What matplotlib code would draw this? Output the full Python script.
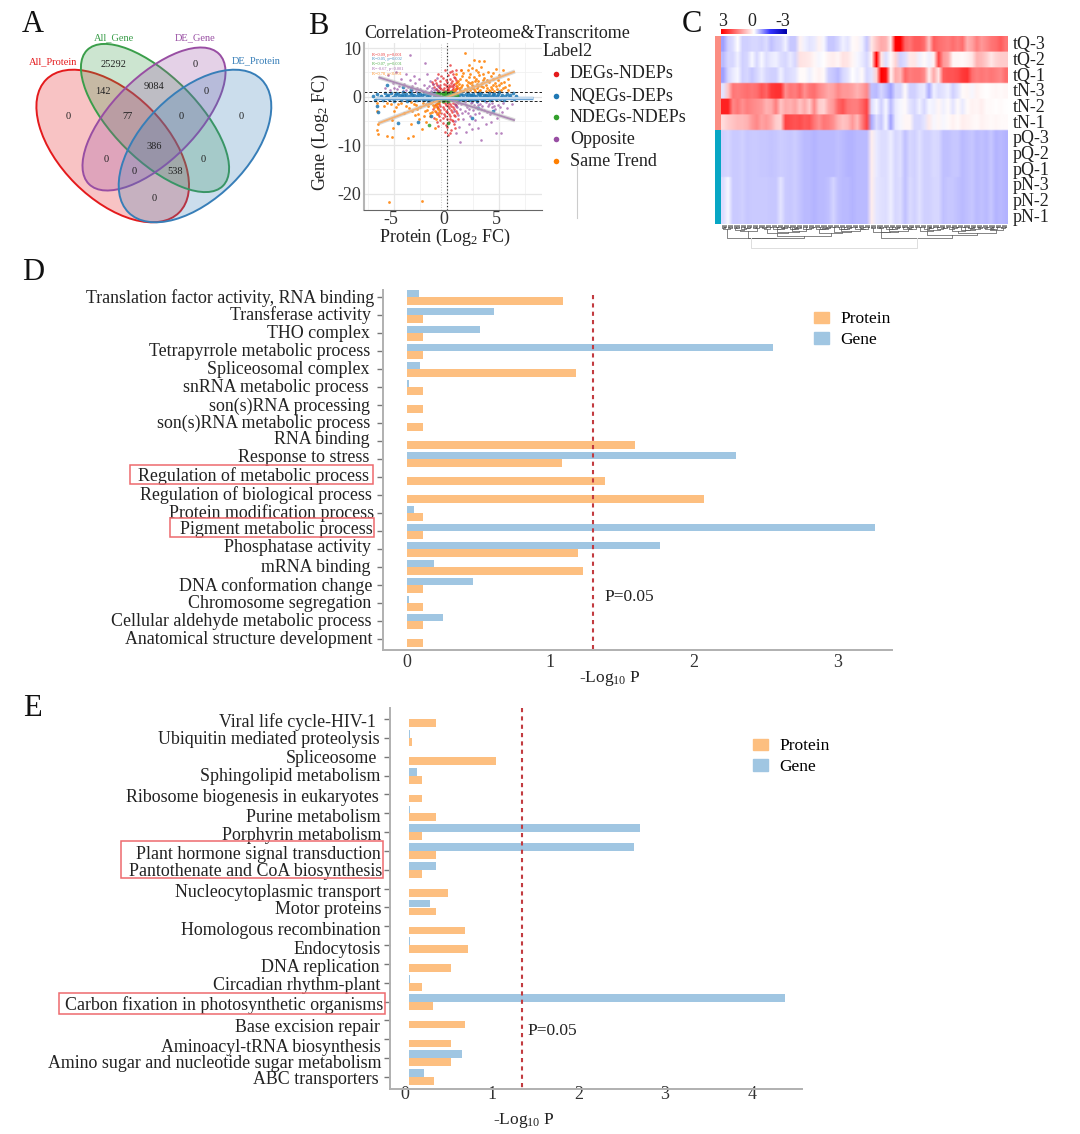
import numpy as np
import matplotlib
matplotlib.use("Agg")
import matplotlib.pyplot as plt
from matplotlib.colors import LinearSegmentedColormap
from matplotlib.patches import Ellipse, Rectangle, Patch
from matplotlib.transforms import ScaledTranslation

plt.rcParams['font.family'] = ['Liberation Serif', 'DejaVu Serif']
plt.rcParams['mathtext.default'] = 'regular'
plt.rcParams['axes.unicode_minus'] = False

# panel A
venn_names = ["All_Protein", "All_Gene", "DE_Gene", "DE_Protein"]
venn_counts = [0, 25292, 142, 9084, 0, 0, 77, 0, 0, 386, 0, 0, 538, 0, 0]

# panel B
same_pts = [(1.7,9.0),(2.1,6.6),(2.6,7.6),(3.1,7.3),(3.6,7.4),(1.4,5.6),(2.0,5.4),(2.8,5.5),(3.3,6.2),(3.9,5.1),(4.7,5.7),(5.4,5.6),
            (0.9,4.6),(1.5,4.2),(2.2,4.7),(2.6,4.0),(3.1,4.5),(3.6,3.9),(4.2,4.3),(4.9,3.4),(5.5,3.1),(1.1,3.2),(1.8,3.5),(2.4,3.1),
            (3.0,3.3),(3.4,2.9),(4.0,3.0),(4.4,2.3),(5.0,2.5),(5.6,2.0),(1.0,2.2),(1.4,1.9),(1.9,2.5),(2.5,2.1),(2.9,1.8),(3.3,2.2),
            (3.8,1.7),(4.3,1.5),(4.8,1.6),(5.2,1.3),(0.8,1.5),(1.3,1.3),(1.7,1.6),(2.2,1.4),(2.7,1.2),(3.2,1.4),(3.7,1.2),(4.1,1.1),
            (0.7,1.1),(1.6,1.1),(2.4,1.7),(2.0,3.0),(3.5,3.5),(4.6,2.9),(1.2,2.7),(2.9,2.6),
            (1.6,4.8),(2.4,5.9),(3.0,5.0),(3.5,4.7),(4.4,4.9),(5.0,4.4),(5.8,3.6),(1.3,3.7),(2.1,4.1),(2.8,3.7),(3.8,3.4),(4.4,3.6),
            (5.2,2.9),(5.9,2.5),(1.5,2.4),(2.2,2.8),(2.7,3.2),(3.7,2.5),(4.2,2.0),(4.7,2.2),(5.4,1.8),(1.2,1.7),(2.0,2.0),(2.6,1.5),
            (3.0,2.2),(3.5,1.9),(4.0,1.4),(4.5,1.2),(5.0,1.1),(5.8,1.4),(0.9,2.9),(1.9,1.2),(2.4,2.4),(3.1,1.2),
            (-6.6,-1.4),(-6.6,-3.0),(-6.5,-5.6),(-6.6,-6.9),(-6.5,-7.7),(-6.0,-2.0),(-5.7,-8.2),(-5.2,-8.3),(-5.3,-1.6),(-5.2,-4.9),
            (-5.1,-6.5),(-4.8,-2.2),(-4.4,-1.3),(-4.1,-3.4),(-3.7,-8.5),(-3.2,-8.1),(-3.6,-2.4),(-3.4,-5.6),(-3.1,-1.5),(-3.0,-3.7),
            (-2.8,-2.6),(-2.6,-4.6),(-2.4,-6.6),(-2.3,-1.4),(-2.1,-3.0),(-2.0,-5.2),(-1.8,-2.0),(-1.6,-4.1),(-1.5,-1.3),(-1.4,-3.2),
            (-1.2,-2.2),(-1.1,-6.4),(-1.0,-1.5),(-0.9,-3.6),(-0.8,-2.6),(-0.7,-1.2),(-5.5,-21.7),(-2.4,-21.5),
            (-5.7,-1.3),(-5.0,-2.9),(-4.6,-1.6),(-3.9,-1.9),(-3.4,-1.2),(-3.3,-3.0),(-2.9,-1.8),(-2.7,-3.6),(-2.5,-2.1),(-2.2,-4.0),
            (-2.0,-1.6),(-1.9,-2.7),(-1.7,-1.3),(-1.6,-3.3),(-1.3,-1.7),(-1.1,-2.9),(-1.0,-4.6),(-0.9,-1.9),(-0.8,-1.4),(-0.7,-3.1)]
opp_pts = [(-3.5,8.5),(-2.1,7.0),(-4.8,5.1),(-3.9,4.7),(-5.6,4.4),(-3.1,4.2),(-1.9,4.6),(-4.4,3.6),(-3.5,3.4),(-2.6,3.6),(-1.6,3.3),
           (-5.1,2.9),(-4.1,2.6),(-3.0,2.8),(-2.2,2.5),(-1.3,2.7),(-0.9,3.9),(-5.9,1.8),(-4.7,1.6),(-3.7,1.9),(-2.8,1.7),(-1.9,1.8),
           (-1.0,1.6),(-5.4,1.3),(-4.2,1.2),(-3.3,1.3),(-2.4,1.2),(-1.5,1.2),(-0.7,1.2),(-0.8,2.1),
           (-4.5,2.1),(-3.3,2.2),(-2.5,1.5),(-1.7,2.2),(-1.2,1.4),(-3.9,1.4),(-5.0,1.8),(-2.9,1.2),(-2.1,1.1),(-1.4,1.8),
           (1.3,-9.3),(3.3,-9.0),(4.7,-7.5),(5.2,-7.5),(0.9,-7.6),(1.8,-7.2),(2.4,-6.7),(1.2,-6.2),(3.0,-6.4),(3.7,-5.7),(2.1,-5.6),
           (0.8,-5.0),(4.2,-5.2),(1.6,-4.6),(2.7,-4.8),(3.4,-4.3),(4.8,-4.5),(1.1,-3.8),(2.2,-3.9),(3.1,-3.4),(4.1,-3.6),(5.3,-3.2),
           (0.7,-3.0),(1.7,-3.0),(2.5,-2.8),(3.6,-2.7),(4.6,-2.6),(5.7,-2.3),(6.2,-1.6),(1.0,-2.2),(1.9,-2.1),(2.8,-2.2),(3.9,-1.9),
           (4.9,-1.7),(0.8,-1.5),(1.4,-1.6),(2.3,-1.4),(3.2,-1.5),(4.3,-1.3),(5.4,-1.3),(1.7,-1.2),(2.9,-1.2),(3.7,-1.2),
           (1.3,-2.6),(2.1,-2.5),(2.6,-1.8),(3.4,-2.0),(1.5,-3.4),(2.7,-3.5),(3.8,-3.1),(0.9,-1.9),(1.8,-1.7),(3.0,-1.8),(4.0,-1.5),
           (4.5,-1.9),(5.1,-2.2),(2.4,-1.2),(1.1,-1.3),(2.0,-3.3),(3.3,-2.5),(4.3,-2.2)]
deg_pts = [(0.3,6.5),(-0.2,5.4),(0.5,5.3),(0.9,5.6),(1.4,5.5),(-0.8,4.7),(0.1,4.4),(0.6,4.6),(-0.4,3.9),(0.3,3.7),(0.8,3.9),(-1.1,3.4),
           (-0.6,3.2),(0.0,3.1),(0.5,3.3),(1.0,3.0),(-1.3,2.6),(-0.9,2.4),(-0.3,2.7),(0.2,2.5),(0.7,2.6),(-0.7,2.0),(0.0,2.0),(0.4,2.1),
           (0.9,2.2),(-1.0,1.6),(-0.5,1.5),(0.1,1.6),(0.6,1.5),(1.0,1.7),(-0.8,1.2),(-0.2,1.2),(0.3,1.2),(0.8,1.2),(-0.3,1.8),(0.6,1.9),
           (-1.2,1.9),(-0.6,2.5),(-0.1,3.5),(0.4,2.8),(0.9,3.4),(-1.4,3.0),(-0.4,1.3),(0.2,1.9),(0.5,1.3),(0.9,1.5),(-0.9,1.4),(-0.1,2.3),
           (-0.5,4.3),(0.3,5.0),(0.7,4.1),(-1.0,2.8),(0.1,1.3),(0.6,2.3),(-0.6,1.7),(0.0,1.4),
           (-0.9,-1.3),(-0.4,-1.2),(0.1,-1.3),(0.6,-1.4),(1.0,-1.2),(-1.1,-1.8),(-0.6,-1.9),(-0.1,-1.7),(0.4,-1.9),(0.9,-1.8),(-1.3,-2.6),
           (-0.8,-2.4),(-0.3,-2.6),(0.2,-2.4),(0.7,-2.6),(-1.0,-3.2),(-0.5,-3.3),(0.0,-3.1),(0.5,-3.2),(1.0,-3.4),(-0.7,-4.0),(-0.2,-3.9),
           (0.3,-4.1),(0.8,-4.0),(-1.2,-4.4),(-0.6,-4.8),(0.0,-4.6),(0.5,-4.9),(1.1,-4.7),(-0.4,-5.5),(0.2,-5.3),(0.7,-5.7),(-0.8,-6.1),
           (0.0,-6.3),(0.4,-6.8),(-0.2,-7.3),(0.3,-7.6),(0.1,-7.9),(0.8,-6.5),
           (-0.7,-1.5),(-0.2,-1.4),(0.3,-1.6),(0.8,-1.5),(-0.9,-2.1),(-0.4,-2.2),(0.1,-2.0),(0.6,-2.1),(-0.6,-2.8),(-0.1,-2.9),(0.4,-2.7),
           (0.9,-2.9),(-0.8,-3.6),(-0.3,-3.5),(0.2,-3.6),(0.7,-3.7),(-0.4,-4.4),(0.3,-4.6),(-0.9,-5.2),(0.6,-5.1),(-0.1,-5.8)]
nqe_pts = [(-7.0,0.1),(-6.8,-0.6),(-6.6,0.5),(-6.5,-0.2),(-6.3,0.2),(-6.1,-0.7),(-5.9,0.7),(-5.8,-0.1),(-5.6,0.3),(-5.5,-0.5),(-5.3,0.8),
           (-5.1,0.0),(-5.0,-0.8),(-4.9,0.4),(-4.7,-0.3),(-4.6,0.6),(-4.4,-0.6),(-4.3,0.1),(-4.2,0.9),(-4.0,-0.2),(-3.9,0.5),(-3.8,-0.8),
           (-3.6,0.2),(-3.5,-0.4),(-3.4,0.7),(-3.2,-0.1),(-3.1,0.4),(-3.0,-0.7),(-2.8,0.1),(-2.7,0.8),(-2.6,-0.4),(-2.4,0.3),(-2.3,-0.6),
           (-2.2,0.6),(-2.0,-0.2),(-1.9,0.2),(-1.8,-0.8),(-1.6,0.5),(-1.5,-0.3),(-1.4,0.8),(-1.2,0.0),(-1.1,-0.6),(1.1,0.3),(1.2,-0.7),
           (1.3,0.7),(1.5,-0.2),(1.6,0.4),(1.7,-0.5),(1.9,0.1),(2.0,0.8),(2.1,-0.6),(2.3,0.3),(2.4,-0.1),(2.5,0.6),(2.7,-0.4),(2.8,0.2),
           (2.9,-0.8),(3.1,0.5),(3.2,-0.2),(3.3,0.8),(3.5,0.0),(3.6,-0.6),(3.7,0.4),(3.9,-0.3),(4.0,0.7),(4.1,-0.7),(4.3,0.2),(4.4,-0.2),
           (4.5,0.6),(4.7,-0.5),(4.8,0.1),(5.0,0.9),(5.1,-0.4),(5.3,0.3),(5.5,-0.7),(5.7,0.6),(5.9,0.0),(6.1,-0.3),(6.3,0.8),(6.6,0.2),
           (-6.6,-2.0),(-6.5,-3.1),(-4.6,-5.5),(-2.7,-5.3),(-1.5,-4.1),(-5.7,2.4),(-4.2,2.0),(-3.4,1.6),(2.4,-4.4),(3.0,-2.3),(4.4,-2.9),
           (-5.7,0.2),(-5.2,-0.3),(-4.8,0.7),(-4.5,-0.1),(-4.1,0.4),(-3.7,-0.5),(-3.3,0.3),(-2.9,-0.3),(-2.5,0.5),(-2.1,-0.5),(-1.7,0.1),
           (-1.3,-0.4),(-1.2,0.5),(-1.0,0.2),(-1.1,0.8),(-3.5,0.9),(-2.6,0.0),(-1.9,0.7),(-1.6,-0.6),(-2.8,-0.7),(-3.9,-0.1),(-4.4,0.3),
           (1.2,0.0),(1.3,-0.4),(1.4,0.5),(1.6,-0.7),(1.8,0.6),(2.0,-0.2),(2.2,0.3),(2.4,-0.7),(2.6,0.1),(2.8,-0.5),(3.0,0.7),(3.2,0.2),
           (3.4,-0.5),(3.6,0.3),(3.8,-0.1),(4.0,0.1),(4.2,-0.5),(4.4,0.5),(4.6,-0.1),(4.9,0.6),(5.2,-0.1),(5.6,0.1),(6.0,0.4),(6.4,-0.5)]
nde_pts = [(-1.0,0.4),(-0.9,-0.3),(-0.9,0.8),(-0.8,0.1),(-0.8,-0.7),(-0.7,0.5),(-0.7,-0.2),(-0.6,0.8),(-0.6,0.0),(-0.5,-0.5),(-0.5,0.4),
           (-0.4,-0.1),(-0.4,0.7),(-0.4,-0.8),(-0.3,0.2),(-0.3,-0.4),(-0.2,0.6),(-0.2,-0.2),(-0.2,0.9),(-0.1,0.1),(-0.1,-0.6),(-0.1,0.4),
           (0.0,-0.3),(0.0,0.7),(0.0,0.2),(0.1,-0.8),(0.1,0.5),(0.1,-0.1),(0.2,0.8),(0.2,-0.5),(0.2,0.3),(0.3,-0.2),(0.3,0.6),(0.3,-0.7),
           (0.4,0.1),(0.4,0.9),(0.5,-0.4),(0.5,0.4),(0.6,-0.1),(0.6,0.7),(0.7,-0.6),(0.7,0.2),(0.8,0.6),(0.8,-0.3),(0.9,0.1),(0.9,-0.7),
           (1.0,0.4),(1.0,-0.2),(0.1,-5.5),(-1.7,-5.8),
           (-0.9,0.1),(-0.8,0.5),(-0.7,-0.6),(-0.6,0.3),(-0.5,0.0),(-0.5,0.8),(-0.4,0.3),(-0.3,-0.7),(-0.3,0.6),(-0.2,0.2),(-0.1,-0.3),
           (0.0,-0.7),(0.0,0.4),(0.1,0.2),(0.2,-0.1),(0.3,0.3),(0.4,-0.5),(0.4,0.5),(0.5,0.0),(0.6,0.3),(0.7,-0.2),(0.8,0.1),(0.9,0.5),(1.0,0.1)]
scatter_labels = ["DEGs-NDEPs", "NQEGs-DEPs", "NDEGs-NDEPs", "Opposite", "Same Trend"]
fit_x = [-6.5, 6.5]
same_fit = [-5.5, 5.2]
opp_fit = [4.0, -4.9]
nqe_fit_x = [-6.6, 8.2]
nqe_fit = [-0.2, -0.2]
fit_notes = ["R=0.09, p=0.001", "R=0.05, p=0.002", "R=0.07, p=0.001", "R=-0.67, p<0.001", "R=0.78, p<0.001"]

# panel C
tQ3 = [-0.7,-0.35,-0.25,0.0,-0.35,-0.35,-0.3,-0.3,-0.35,-0.25,-0.45,-0.35,-0.3,-0.1,-0.4,-0.4,0.15,-0.1,-0.2,-0.15,0.15,-0.05,-0.4,-0.4,-0.3,-0.1,-0.2,0.05,0.1,-0.1,-0.4,
       0.3,0.7,1.0,0.9,0.2,3,3,1.8,1.6,1.9,1.9,1.7,0.7,1.9,1.7,1.6,1.5,1.7,1.5,1.7,0.9,1.1,1.5,1.2,1.4,1.6,1.7,1.9,1.6]
tQ2 = [-0.5,-0.3,-0.3,-0.1,-0.35,-0.3,-0.05,-0.3,-0.05,-0.25,-0.15,-0.1,-0.25,-0.3,-0.15,-0.3,0.35,0.3,0.25,0.1,-0.05,0.0,0.15,0.2,0.1,0.35,0.3,0.1,-0.05,-0.15,-0.3,
       0.1,3,0.3,-0.25,0.05,0.5,-0.35,-0.25,0.25,0.3,-0.1,0.05,-0.1,0.15,2.2,1.2,1.0,0.1,0.1,0.05,0.15,0.3,0.9,0.8,0.6,0.3,0.5,0.6,0.6]
tQ1 = [-0.7,-0.3,-0.15,-0.05,-0.35,-0.3,-0.4,-0.3,-0.15,-0.3,-0.35,-0.35,-0.1,-0.3,-0.25,-0.2,0.05,0.05,-0.1,0.05,0.15,0.05,-0.35,-0.4,-0.5,-0.3,-0.2,0.0,-0.1,0.05,-0.3,
       -0.2,0.5,3,2.8,0.1,1.0,0.8,1.8,1.5,1.6,1.6,1.4,0.2,1.0,0.3,1.9,2.0,2.0,2.1,2.3,2.4,1.7,1.5,1.6,1.5,1.6,1.5,1.4,1.7]
tN3 = [-0.2,0.7,1.6,1.5,1.6,1.7,1.6,1.7,2.0,1.8,2.3,2.4,2.4,1.3,1.6,1.5,1.8,1.3,1.6,1.7,1.4,1.2,1.0,1.1,1.4,1.2,1.2,1.1,0.9,1.1,1.4,
       -0.45,-0.5,-0.3,-0.45,-0.7,-0.3,-0.3,0.05,-0.35,-0.35,-0.2,-0.15,-0.6,-0.1,-0.25,-0.2,-0.1,-0.35,-0.2,0.05,0.1,-0.05,0.15,0.05,0.0,0.05,0.1,0.05,0.1]
tN2 = [2.6,2.6,1.4,1.6,1.3,1.5,1.4,1.3,1.2,0.9,1.0,1.5,0.7,1.0,0.9,1.1,0.7,1.0,0.6,1.4,0.6,0.5,1.0,1.2,1.8,2.0,1.6,1.5,1.5,1.8,2.2,
       -0.25,-0.05,-0.35,-0.05,-0.5,-0.15,-0.05,0.05,-0.2,-0.3,-0.1,-0.3,-0.05,-0.1,0.1,-0.1,0.05,-0.2,0.05,-0.15,0.05,0.15,0.1,0.2,0.05,0.05,0.0,0.05,0.0]
tN1 = [0.4,0.6,0.7,0.8,0.8,0.9,1.2,1.4,1.1,1.2,1.0,0.6,0.5,2.2,2.1,2.0,2.1,1.9,2.0,1.6,1.3,1.6,1.5,1.3,0.9,0.7,0.8,1.2,0.8,1.5,2.2,
       -0.6,-0.25,-0.4,-0.05,-0.7,-0.15,-0.05,0.1,0.1,-0.3,-0.3,-0.2,0.25,-0.05,0.1,-0.05,0.05,0.15,0.05,0.2,0.15,0.1,0.05,0.15,0.1,0.05,0.1,0.05,0.05]
pQ = [-0.35,-0.3,-0.38,-0.38,-0.35,-0.4,-0.38,-0.38,-0.4,-0.4,-0.44,-0.4,-0.36,-0.38,-0.4,-0.36,-0.44,-0.5,-0.5,-0.54,-0.5,-0.5,-0.5,-0.5,-0.46,-0.5,-0.54,-0.54,-0.5,-0.5,-0.5,
      0.2,-0.15,-0.25,-0.25,-0.12,-0.3,-0.22,-0.45,-0.3,-0.35,-0.22,-0.35,-0.35,-0.27,-0.3,-0.45,-0.45,-0.4,-0.4,-0.5,-0.45,-0.4,-0.5,-0.45,-0.5,-0.42,-0.54,-0.5,-0.54]
pN = [-0.25,-0.05,-0.38,-0.38,-0.35,-0.4,-0.38,-0.38,-0.38,-0.38,-0.4,-0.4,-0.2,-0.38,-0.4,-0.36,-0.44,-0.5,-0.5,-0.54,-0.5,-0.5,-0.46,-0.32,-0.46,-0.5,-0.5,-0.54,-0.5,-0.5,-0.5,
      0.2,-0.17,-0.22,-0.25,-0.12,-0.3,-0.25,-0.45,-0.27,-0.35,-0.22,-0.35,-0.35,-0.3,-0.3,-0.45,-0.42,-0.4,-0.45,-0.5,-0.45,-0.4,-0.5,-0.45,-0.5,-0.42,-0.54,-0.5,-0.54]
heat_rows = ["tQ-3", "tQ-2", "tQ-1", "tN-3", "tN-2", "tN-1", "pQ-3", "pQ-2", "pQ-1", "pN-3", "pN-2", "pN-1"]

# panel D
d_terms = ["Translation factor activity, RNA binding", "Transferase activity", "THO complex", "Tetrapyrrole metabolic process",
           "Spliceosomal complex", "snRNA metabolic process", "son(s)RNA processing", "son(s)RNA metabolic process", "RNA binding",
           "Response to stress", "Regulation of metabolic process", "Regulation of biological process", "Protein modification process",
           "Pigment metabolic process", "Phosphatase activity", "mRNA binding", "DNA conformation change", "Chromosome segregation",
           "Cellular aldehyde metabolic process", "Anatomical structure development"]
d_gene = [0.09, 0.61, 0.51, 2.55, 0.096, 0.018, 0, 0.006, 0, 2.29, 0, 0, 0.05, 3.26, 1.765, 0.19, 0.46, 0.02, 0.255, 0]
d_protein = [1.09, 0.115, 0.118, 0.115, 1.18, 0.115, 0.113, 0.113, 1.59, 1.08, 1.38, 2.07, 0.113, 0.113, 1.19, 1.23, 0.113, 0.113, 0.113, 0.113]
d_label_y = [296, 313, 332, 350, 368, 385, 404, 421, 438, 456, 474, 493, 511, 527, 546, 565, 584, 602, 620, 638]
d_label_end = [374, 371, 370, 370, 370, 369, 370, 370, 370, 370, 369, 372, 374, 373, 371, 371, 373, 371, 372, 373]

# panel E
e_terms = ["Viral life cycle-HIV-1", "Ubiquitin mediated proteolysis", "Spliceosome", "Sphingolipid metabolism",
           "Ribosome biogenesis in eukaryotes", "Purine metabolism", "Porphyrin metabolism", "Plant hormone signal transduction",
           "Pantothenate and CoA biosynthesis", "Nucleocytoplasmic transport", "Motor proteins", "Homologous recombination", "Endocytosis",
           "DNA replication", "Circadian rhythm-plant", "Carbon fixation in photosynthetic organisms", "Base excision repair",
           "Aminoacyl-tRNA biosynthesis", "Amino sugar and nucleotide sugar metabolism", "ABC transporters"]
e_gene = [0, 0.015, 0, 0.096, 0, 0.02, 2.67, 2.59, 0.31, 0, 0.245, 0, 0.02, 0, 0.02, 4.33, 0, 0, 0.61, 0.18]
e_protein = [0.32, 0.04, 1.01, 0.157, 0.157, 0.32, 0.157, 0.32, 0.157, 0.45, 0.32, 0.65, 0.685, 0.485, 0.157, 0.28, 0.65, 0.485, 0.485, 0.29]
e_label_y = [720, 738, 756, 774, 795, 815, 833, 852, 870, 890, 907, 928, 947, 965, 983, 1003, 1026, 1045, 1061, 1078]
e_label_end = [376, 380, 377, 381, 379, 381, 382, 381, 382, 381, 382, 381, 381, 380, 381, 383, 380, 381, 382, 379]

p_cut = 1.30
ORANGE = '#fdbf80'
BLUE = '#a0c6e2'
W, H = 1080, 1134

fig = plt.figure(figsize=(W/100, H/100), dpi=100, facecolor='white')


def px_axes(l, t, r, b, **kw):
    return fig.add_axes([l/W, 1-b/H, (r-l)/W, (b-t)/H], **kw)


# everything placed by pixel goes on this one
ov = fig.add_axes([0, 0, 1, 1], zorder=10)
ov.set_xlim(0, W)
ov.set_ylim(H, 0)
ov.axis('off')
ov.patch.set_alpha(0)

for name, x, y in [("A", 33, 25), ("B", 318, 26), ("C", 692, 24), ("D", 33, 272), ("E", 32, 709)]:
    ov.text(x, y, name, fontsize=22, ha='center', va='center', color='#111111')

# ---- A venn
venn_cols = ['#e41a1c', '#3a9e4a', '#984ea3', '#377eb8']
venn_geo = [(112.7, 146, 45, 94, 53), (155, 118, 45, 96, 42), (154, 119, -45, 92, 42), (195, 146, -45, 94, 53)]
for col, (cx, cy, ang, a, b) in zip(venn_cols, venn_geo):
    ov.add_patch(Ellipse((cx, cy), 2*a, 2*b, angle=ang, facecolor=col, alpha=0.26, edgecolor='none'))
    ov.add_patch(Ellipse((cx, cy), 2*a, 2*b, angle=ang, facecolor='none', edgecolor=col, lw=1.4))
count_xy = [(67.7,116.7),(113.3,64.7),(102.7,91.7),(154.3,86.7),(195,64.3),(206,91.7),(127.3,116.7),(181.3,116.7),(241,116.7),
            (154.3,146.7),(105.7,160),(134,171),(174.7,171),(203.3,160),(154.3,198.3)]
for n, (x, y) in zip(venn_counts, count_xy):
    ov.text(x, y, str(n), fontsize=7.5, ha='center', va='center', color='#222222')
for name, col, (x, y) in zip(venn_names, venn_cols, [(52.7,61.5),(113.7,37.5),(195,37.5),(256,61)]):
    ov.text(x, y, name, fontsize=7.5, ha='center', va='center', color=col)

# ---- B scatter
axb = px_axes(364, 43, 542, 210)
axb.set_xlim(-7.88, 9.08)
axb.set_ylim(-23.4, 11.07)
axb.set_axisbelow(True)
axb.set_xticks([-5, 0, 5])
axb.set_xticks([-7.5, -2.5, 2.5, 7.5], minor=True)
axb.set_yticks([10, 0, -10, -20])
axb.set_yticks([5, -5, -15], minor=True)
axb.grid(True, which='major', color='#e6e6e6', lw=0.9)
axb.grid(True, which='minor', color='#f1f1f1', lw=0.6)
axb.tick_params(which='both', length=0)
axb.tick_params(axis='y', labelsize=13, labelcolor='#333333', pad=2)
axb.tick_params(axis='x', labelsize=13, labelcolor='#333333', pad=1)
for side in ['top', 'right']:
    axb.spines[side].set_visible(False)
axb.spines['left'].set_color('#b5b5b5')
axb.spines['left'].set_linewidth(1.5)
axb.spines['bottom'].set_color('#666666')
axb.spines['bottom'].set_linewidth(0.8)
left_shift = ScaledTranslation(-3/100, 0, fig.dpi_scale_trans)
for lab in axb.get_xticklabels():
    lab.set_transform(lab.get_transform()+left_shift)

scatter_cols = ['#e41a1c', '#1f78b4', '#33a02c', '#984ea3', '#ff7f00']
for pts, col, size, alpha in [(deg_pts, scatter_cols[0], 3.5, 0.7), (opp_pts, scatter_cols[3], 3.5, 0.7),
                              (same_pts, scatter_cols[4], 4, 0.85), (nqe_pts, scatter_cols[1], 7, 0.85),
                              (nde_pts, scatter_cols[2], 7, 0.85)]:
    xs, ys = np.array(pts).T
    axb.scatter(xs, ys, s=size, color=col, alpha=alpha, linewidths=0)

axb.axhline(1, color='#222222', lw=0.7, ls=(0, (3, 2)))
axb.axhline(-1, color='#222222', lw=0.7, ls=(0, (3, 2)))
axb.axvline(0, color='#222222', lw=0.8, ls=(0, (1, 2)))
axb.axvline(-0.5, color='#bbbbbb', lw=0.6, ls=(0, (1, 2)))
axb.plot(fit_x, same_fit, color='#bdbdbd', lw=3.0, alpha=0.55, solid_capstyle='butt')
axb.plot(fit_x, same_fit, color='#f5b070', lw=1.3, solid_capstyle='butt')
axb.plot(fit_x, opp_fit, color='#bdbdbd', lw=3.0, alpha=0.55, solid_capstyle='butt')
axb.plot(fit_x, opp_fit, color='#ad8ab5', lw=1.3, solid_capstyle='butt')
axb.plot(nqe_fit_x, nqe_fit, color='#6aa3d5', lw=2.4, solid_capstyle='butt')
axb.plot(nqe_fit_x, nqe_fit, color='#dfeaf5', lw=1.1, solid_capstyle='butt')
for k, (txt, col) in enumerate(zip(fit_notes, scatter_cols)):
    ov.text(372, 54.5+k*4.8, txt, fontsize=3.2, color=col, ha='left', va='center', alpha=0.85)

ov.text(497, 34, "Correlation-Proteome&Transcritome", fontsize=13, ha='center', va='center', color='#222222')
ov.text(543, 52, "Label2", fontsize=13, ha='left', va='center', color='#222222')
for lab, col, y in zip(scatter_labels, scatter_cols, [74, 96, 117, 139, 161]):
    ov.scatter([556], [y], s=16, color=col, linewidths=0)
    ov.text(570, y, lab, fontsize=13, ha='left', va='center', color='#222222')
ov.text(445, 237, "Protein (Log$_2$ FC)", fontsize=13, ha='center', va='center', color='#222222')
ov.text(320, 132, "Gene (Log$_2$ FC)", fontsize=13, ha='center', va='center', rotation=90, color='#222222')
ov.plot([577, 577], [166, 218], color='#cccccc', lw=0.8)

# ---- C heatmap
heat_cmap = LinearSegmentedColormap.from_list('heat', [(0, '#0000a8'), (0.25, '#3333ff'), (0.5, '#ffffff'), (1, '#ff0000')])
heat = np.array([tQ3, tQ2, tQ1, tN3, tN2, tN1, pQ, pQ, pQ, pN, pN, pN])
axc = px_axes(721, 36, 1007, 224)
# repeat rows so the smoothing only softens along the columns
axc.imshow(np.repeat(heat, 10, axis=0), aspect='auto', cmap=heat_cmap, vmin=-3, vmax=3, interpolation='bilinear')
axc.axis('off')
ov.add_patch(Rectangle((715, 36), 5.5, 94, facecolor='#fb8d82', edgecolor='none'))
ov.add_patch(Rectangle((715, 130), 5.5, 94, facecolor='#07a6c4', edgecolor='none'))
for k, lab in enumerate(heat_rows):
    ov.text(1013, 45+k*15.65, lab, fontsize=13, ha='left', va='center', color='#222222')

axbar = px_axes(721, 29, 786, 34)
axbar.imshow(np.linspace(3, -3, 200).reshape(1, -1), aspect='auto', cmap=heat_cmap, vmin=-3, vmax=3)
axbar.axis('off')
for lab, x in [("3", 723), ("0", 752), ("-3", 783)]:
    ov.text(x, 21, lab, fontsize=13, ha='center', va='center', color='#222222')

# dendrogram under the heatmap, leaves on top
axd = px_axes(721, 225, 1007, 249)
axd.set_xlim(0, 240)
axd.set_ylim(24, 0)
axd.axis('off')
cut_fracs = [0.08, 0.5, 0.2, 0.7, 0.35, 0.12, 0.6, 0.3]
cut_i = [0]


def dendro(lo, hi):
    # returns x, height of the node over leaves lo..hi
    if lo == hi:
        return lo + 0.5, 0.3
    frac = cut_fracs[cut_i[0] % len(cut_fracs)]
    cut_i[0] += 1
    cut = lo + int((hi-lo)*frac)
    x1, h1 = dendro(lo, cut)
    x2, h2 = dendro(cut+1, hi)
    h = (hi-lo+1)**0.55*0.9 + 0.5
    axd.plot([x1, x1, x2, x2], [h1, h, h, h2], color='#555555', lw=0.5)
    return (x1+x2)/2, h


lx, lh = dendro(0, 124)
rx, rh = dendro(125, 239)
axd.plot([lx, lx, rx, rx], [lh, 23, 23, rh], color='#dddddd', lw=0.7)


# ---- D and E bars
def bar_panel(box, terms, gene, protein, x0, unit, y0, step, label_y, label_end, xpad):
    l, t, r, b = box
    ax = px_axes(l, t, r, b)
    ys = np.arange(len(terms))
    ax.barh(ys-0.2, gene, height=0.41, color=BLUE, label='Gene')
    ax.barh(ys+0.22, protein, height=0.41, color=ORANGE, label='Protein')
    ax.set_xlim((l-x0)/unit, (r-x0)/unit)
    ax.set_ylim((b-y0)/step, (t-y0)/step)
    ax.set_yticks(ys)
    ax.set_yticklabels(terms, fontsize=12.9, color='#222222')
    for side in ['top', 'right']:
        ax.spines[side].set_visible(False)
    for side in ['left', 'bottom']:
        ax.spines[side].set_color('#b0b0b0')
        ax.spines[side].set_linewidth(1.4)
    ax.tick_params(axis='y', length=4, width=1, color='#777777', pad=3)
    ax.tick_params(axis='x', length=0, labelsize=13, labelcolor='#333333', pad=xpad)
    ax.patch.set_alpha(0)
    # the labels were set by hand in the figure, they do not sit exactly on the ticks
    for i, lab in enumerate(ax.get_yticklabels()):
        dx = label_end[i] - (l-9.5)
        dy = (y0 + i*step) - label_y[i]
        lab.set_transform(lab.get_transform()+ScaledTranslation(dx/100, dy/100, fig.dpi_scale_trans))
    return ax


axD = bar_panel((383, 290, 892, 650), d_terms, d_gene, d_protein, 406.5, 143.7, 297, 18.0, d_label_y, d_label_end, 3)
axD.set_xticks([0, 1, 2, 3])
axD.plot([p_cut, p_cut], [-0.1, 19.66], color='#c23b40', lw=1.5, ls=(0, (2, 2)))
ov.text(604, 597, "P=0.05", fontsize=12.5, ha='left', va='center', color='#222222')
ov.text(610, 679, "-Log$_{10}$ P", fontsize=12.5, ha='center', va='center', color='#222222')

axE = bar_panel((390, 708, 802, 1089), e_terms, e_gene, e_protein, 408.7, 86.8, 719, 18.84, e_label_y, e_label_end, -2)
axE.set_xticks([0, 1, 2, 3, 4])
shift = ScaledTranslation(-4/100, 0, fig.dpi_scale_trans)
for lab in axE.get_xticklabels():
    lab.set_transform(lab.get_transform()+shift)
axE.plot([p_cut, p_cut], [-0.58, 19.64], color='#c23b40', lw=1.5, ls=(0, (2, 2)))
ov.text(527, 1031, "P=0.05", fontsize=12.5, ha='left', va='center', color='#222222')
ov.text(524, 1121, "-Log$_{10}$ P", fontsize=12.5, ha='center', va='center', color='#222222')

legend_handles = [Patch(color=ORANGE, label='Protein'), Patch(color=BLUE, label='Gene')]
for ax, (lx_, ly_) in [(axD, (811, 308)), (axE, (750, 735))]:
    ax.legend(handles=legend_handles, loc='upper left', bbox_to_anchor=(lx_/W, 1-ly_/H), bbox_transform=fig.transFigure,
              frameon=False, fontsize=12.5, handlelength=0.85, handleheight=0.65, handletextpad=0.65, labelspacing=0.25,
              borderpad=0.2, borderaxespad=0)

# red boxes round the highlighted terms
for (x1, y1, x2, y2) in [(130, 465, 373, 484), (170, 518, 374, 537), (121, 841, 383, 878), (59, 993, 385, 1014)]:
    ov.add_patch(Rectangle((x1, y1), x2-x1, y2-y1, fill=False, edgecolor='#ee6a6e', lw=1.1))

fig.savefig("out.png", dpi=100)
